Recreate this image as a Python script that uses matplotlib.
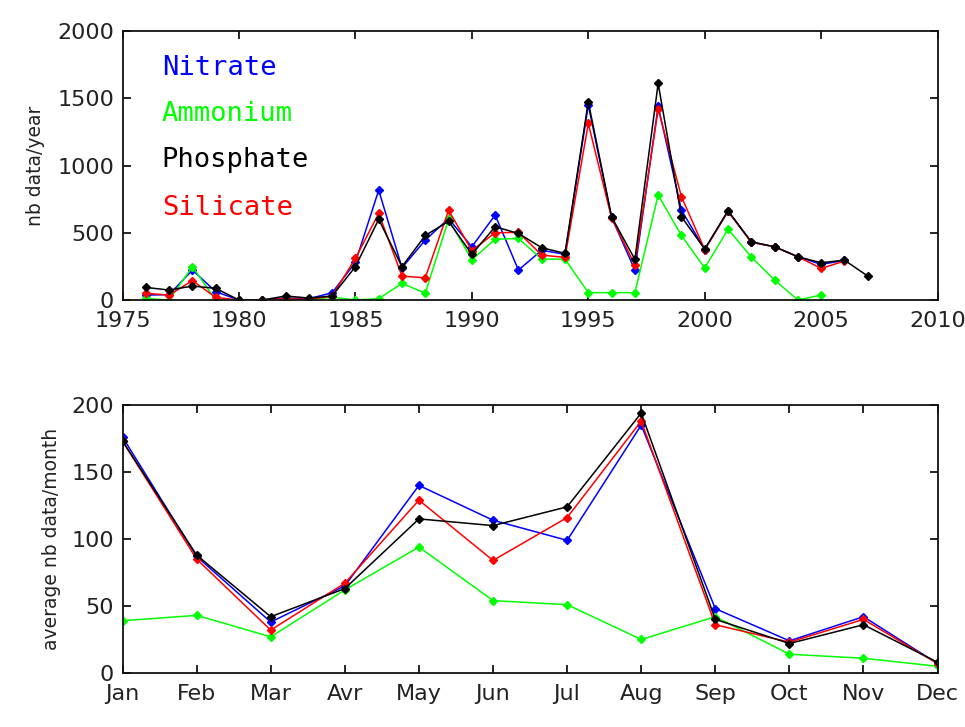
import matplotlib
matplotlib.use('Agg')
import matplotlib.pyplot as plt
import numpy as np

# yearly counts (top panel)
years_nit = list(range(1976, 2007))
nitrate = [37, 40, 223, 62, 0, 0, 15, 10, 54, 280, 817, 240, 446, 605, 396,
           632, 223, 370, 340, 1449, 615, 223, 1441, 669, 375, 660, 430, 396,
           322, 265, 295]
years_amm = list(range(1976, 2006))
ammonium = [12, 0, 248, 0, 0, 0, 0, 0, 22, 0, 10, 124, 51, 600, 300, 452,
            458, 304, 304, 55, 55, 55, 780, 480, 238, 527, 320, 149, 0, 37]
years_pho = list(range(1976, 2008))
phosphate = [94, 74, 104, 87, 0, 0, 30, 15, 30, 248, 600, 248, 480, 585, 340,
             545, 495, 389, 347, 1473, 619, 302, 1610, 619, 379, 664, 433, 396,
             322, 277, 297, 178]
years_sil = list(range(1976, 2007))
silicate = [50, 37, 144, 20, 0, 0, 10, 5, 30, 310, 644, 178, 165, 667, 368,
            500, 503, 334, 317, 1313, 610, 260, 1420, 768, 375, 660, 430, 396,
            322, 235, 290]

# monthly averages (bottom panel)
months = ['Jan', 'Feb', 'Mar', 'Avr', 'May', 'Jun', 'Jul', 'Aug', 'Sep', 'Oct', 'Nov', 'Dec']
nitrate_m = [176, 87, 38, 65, 140, 114, 99, 185, 48, 24, 42, 7]
ammonium_m = [39, 43, 27, 62, 94, 54, 51, 25, 42, 14, 11, 5]
phosphate_m = [173, 88, 42, 63, 115, 110, 124, 194, 40, 22, 36, 8]
silicate_m = [173, 85, 32, 67, 129, 84, 116, 188, 36, 23, 40, 7]

names = ['Nitrate', 'Ammonium', 'Phosphate', 'Silicate']
colors = ['#0000ff', '#00ff00', '#000000', '#ff0000']

fig = plt.figure(figsize=(9.65, 7.27), dpi=100)
ax1 = fig.add_axes([0.127, 0.5873, 0.8446, 0.370])
ax2 = fig.add_axes([0.127, 0.0743, 0.8446, 0.3686])

kw = dict(marker='D', markersize=4.5, linewidth=1.1)

# top panel
ax1.plot(years_nit, nitrate, color=colors[0], **kw)
ax1.plot(years_amm, ammonium, color=colors[1], **kw)
ax1.plot(years_sil, silicate, color=colors[3], **kw)
ax1.plot(years_pho, phosphate, color=colors[2], **kw)
ax1.set_xlim(1975, 2010)
ax1.set_ylim(0, 2000)
ax1.set_xticks(np.arange(1975, 2011, 5))
ax1.set_yticks(np.arange(0, 2001, 500))
ax1.set_ylabel('nb data/year', fontsize=13.5)
ax1.yaxis.set_label_coords(-0.095, 0.5)

leg_y = [0.836, 0.665, 0.494, 0.316]
for name, c, y in zip(names, colors, leg_y):
    ax1.text(0.048, y, name, color=c, transform=ax1.transAxes,
             family='DejaVu Sans Mono', fontsize=19.5, va='baseline', ha='left')

# bottom panel
x = np.arange(1, len(months) + 1)
ax2.plot(x, nitrate_m, color=colors[0], **kw)
ax2.plot(x, ammonium_m, color=colors[1], **kw)
ax2.plot(x, silicate_m, color=colors[3], **kw)
ax2.plot(x, phosphate_m, color=colors[2], **kw)
ax2.set_xlim(1, 12)
ax2.set_ylim(0, 200)
ax2.set_xticks(x)
ax2.set_xticklabels(months)
ax2.set_yticks(np.arange(0, 201, 50))
ax2.set_ylabel('average nb data/month', fontsize=13.5)
ax2.yaxis.set_label_coords(-0.075, 0.5)

for ax in (ax1, ax2):
    ax.tick_params(direction='in', top=True, right=True, length=6, width=1.2,
                   labelsize=16, labelcolor='#222222')
    ax.tick_params(axis='x', pad=8)
    ax.tick_params(axis='y', pad=6)
    for s in ax.spines.values():
        s.set_linewidth(1.3)
        s.set_color('#111111')
    ax.yaxis.label.set_color('#222222')

fig.savefig('out.png', dpi=100)
